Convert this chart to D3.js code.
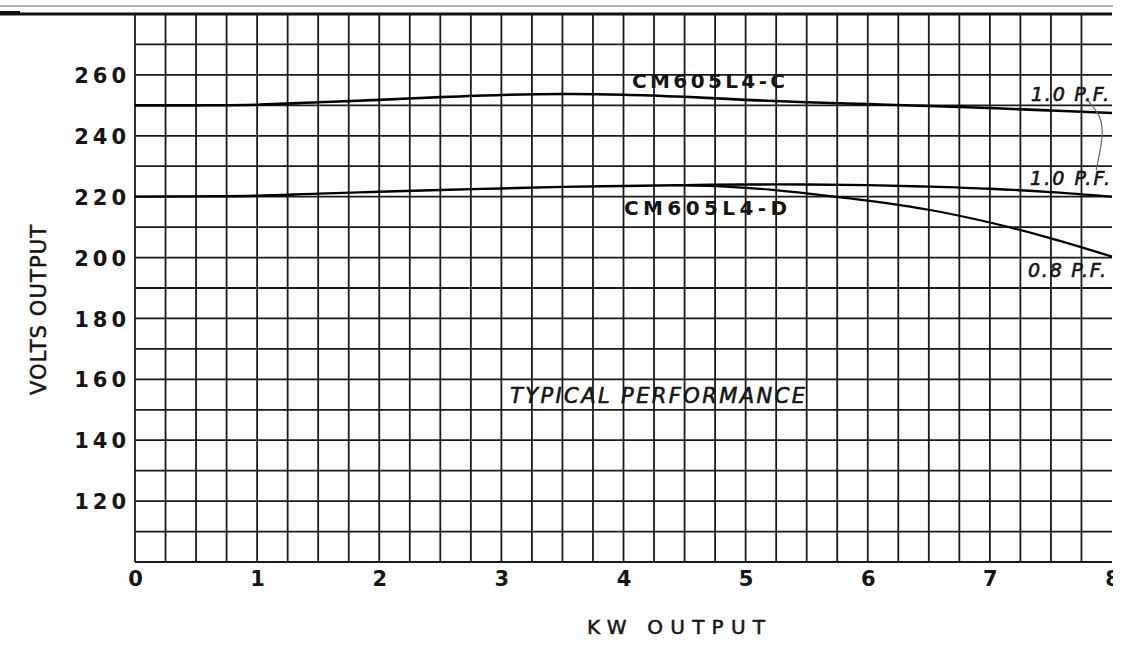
<!DOCTYPE html>
<html>
<head>
<meta charset="utf-8">
<script src="https://cdn.jsdelivr.net/npm/d3@7/dist/d3.min.js"></script>
<style>
  html, body { margin: 0; padding: 0; background: #fff; }
  svg { display: block; }
  text { font-family: "DejaVu Sans", "Liberation Sans", sans-serif; fill: #151515; }
</style>
</head>
<body>
<svg id="chart" width="1123" height="645"></svg>
<script>
// ---- data ----
const xTicks = [0, 1, 2, 3, 4, 5, 6, 7, 8];
const yTicks = [120, 140, 160, 180, 200, 220, 240, 260];

// CM605L4-C, 1.0 P.F.
const kwC10 = [0, 0.5, 1, 1.5, 2, 2.5, 3, 3.5, 4, 4.5, 5, 5.5, 6, 6.5, 7, 7.5, 8];
const vC10  = [250, 250, 250.2, 251, 251.8, 252.7, 253.4, 253.7, 253.5, 252.8, 251.8, 251, 250.4, 249.8, 249.1, 248.3, 247.5];

// CM605L4-D, 1.0 P.F.
const kwD10 = [0, 0.5, 1, 1.5, 2, 2.5, 3, 3.5, 4, 4.5, 5, 5.5, 6, 6.5, 7, 7.5, 8];
const vD10  = [220, 220.1, 220.3, 221, 221.6, 222.2, 222.7, 223.2, 223.5, 223.8, 224, 224, 223.8, 223.3, 222.6, 221.5, 220];

// CM605L4-D, 0.8 P.F.
const kwD08 = [4.4, 4.8, 5.2, 5.6, 6, 6.5, 7, 7.5, 8];
const vD08  = [223.8, 223.4, 222.3, 220.6, 218.7, 215.7, 211.5, 206.3, 200.3];

// hand-drawn bracket joining the two 1.0 P.F. labels
const kwBracket = [7.80, 7.90, 7.92, 7.87];
const vBracket  = [251.7, 246, 240.9, 228.7];

// ---- drawing ----
const svg = d3.select("#chart");
const x = d3.scaleLinear().domain([0, 8]).range([135, 1112]);
const y = d3.scaleLinear().domain([100, 280]).range([562, 14]);

svg.append("defs").append("clipPath").attr("id", "scan")
  .append("rect").attr("x", 0).attr("y", 0).attr("width", 1113).attr("height", 645);

const g = svg.append("g").attr("clip-path", "url(#scan)");

// faint scan edge line
g.append("line").attr("x1", 0).attr("x2", 1113).attr("y1", 6).attr("y2", 6)
  .attr("stroke", "#999").attr("stroke-width", 1.5);

// horizontal grid (every 10 V)
const hLines = d3.range(100, 280, 10);
g.selectAll("line.h").data(hLines).join("line")
  .attr("class", "h")
  .attr("x1", x(0)).attr("x2", x(8))
  .attr("y1", d => y(d)).attr("y2", d => y(d))
  .attr("stroke", "#1a1a1a").attr("stroke-width", 1.8);

// top heavy border
g.append("line").attr("x1", 0).attr("x2", x(8))
  .attr("y1", y(280)).attr("y2", y(280))
  .attr("stroke", "#111").attr("stroke-width", 3.2);
g.append("line").attr("x1", 0).attr("x2", 20)
  .attr("y1", y(280) - 1).attr("y2", y(280) - 1)
  .attr("stroke", "#111").attr("stroke-width", 4);

// vertical grid (every 0.25 kW)
const vLines = d3.range(0, 8, 0.25);
g.selectAll("line.v").data(vLines).join("line")
  .attr("class", "v")
  .attr("x1", d => x(d)).attr("x2", d => x(d))
  .attr("y1", y(280)).attr("y2", y(100))
  .attr("stroke", "#1a1a1a").attr("stroke-width", 1.8);

// curves
const line = d3.line().x(d => x(d[0])).y(d => y(d[1])).curve(d3.curveCatmullRom.alpha(0.5));
const series = [
  { k: kwC10, v: vC10, w: 2.6 },
  { k: kwD10, v: vD10, w: 2.4 },
  { k: kwD08, v: vD08, w: 2.2 }
];
series.forEach(s => {
  g.append("path")
    .datum(s.k.map((kk, i) => [kk, s.v[i]]))
    .attr("d", line)
    .attr("fill", "none").attr("stroke", "#000").attr("stroke-width", s.w);
});

// bracket
g.append("path")
  .datum(kwBracket.map((kk, i) => [kk, vBracket[i]]))
  .attr("d", d3.line().x(d => x(d[0])).y(d => y(d[1])).curve(d3.curveCatmullRom))
  .attr("fill", "none").attr("stroke", "#666").attr("stroke-width", 1.2);

// y tick labels
const yAxis = d3.axisLeft(y).tickValues(yTicks).tickSize(0).tickPadding(5).tickFormat(d3.format("d"));
const ya = g.append("g").attr("transform", `translate(${x(0)},0)`).call(yAxis);
ya.select(".domain").remove();
ya.selectAll("text")
  .attr("font-size", 21).attr("font-weight", "bold").attr("font-family", "DejaVu Sans")
  .attr("letter-spacing", 4).attr("fill", "#151515").attr("dy", "0.36em");

// x tick labels
const xAxis = d3.axisBottom(x).tickValues(xTicks).tickSize(0).tickPadding(9).tickFormat(d3.format("d"));
const xa = g.append("g").attr("transform", `translate(0,${y(100)})`).call(xAxis);
xa.select(".domain").remove();
xa.selectAll("text")
  .attr("font-size", 21).attr("font-weight", "bold").attr("font-family", "DejaVu Sans").attr("fill", "#151515");

// axis titles
g.append("text").attr("x", 676).attr("y", 634)
  .attr("text-anchor", "middle").attr("font-size", 20)
  .attr("stroke", "#151515").attr("stroke-width", 0.5)
  .attr("textLength", 178).attr("lengthAdjust", "spacing")
  .text("KW  OUTPUT");

g.append("text")
  .attr("transform", "translate(46,310) rotate(-90)")
  .attr("text-anchor", "middle").attr("font-size", 21)
  .attr("stroke", "#151515").attr("stroke-width", 0.5)
  .attr("textLength", 170).attr("lengthAdjust", "spacing")
  .text("VOLTS OUTPUT");

// series labels
g.append("text").attr("x", 632).attr("y", 88)
  .attr("font-size", 20).attr("font-weight", "bold")
  .attr("textLength", 153).attr("lengthAdjust", "spacing")
  .text("CM605L4-C");
g.append("text").attr("x", 624).attr("y", 215)
  .attr("font-size", 20).attr("font-weight", "bold")
  .attr("textLength", 163).attr("lengthAdjust", "spacing")
  .text("CM605L4-D");

const pf = [
  { t: "1.0 P.F.", x: 1031, y: 101, w: 78 },
  { t: "1.0 P.F.", x: 1030, y: 185, w: 80 },
  { t: "0.8 P.F.", x: 1028, y: 277, w: 78 }
];
pf.forEach(p => {
  g.append("text").attr("x", p.x).attr("y", p.y)
    .attr("font-size", 19).attr("font-style", "italic")
    .attr("stroke", "#151515").attr("stroke-width", 0.6)
    .attr("textLength", p.w).attr("lengthAdjust", "spacing")
    .text(p.t);
});

g.append("text").attr("x", 510).attr("y", 403)
  .attr("font-size", 21).attr("font-style", "italic")
  .attr("stroke", "#151515").attr("stroke-width", 0.6)
  .attr("textLength", 295).attr("lengthAdjust", "spacing")
  .text("TYPICAL PERFORMANCE");
</script>
</body>
</html>
